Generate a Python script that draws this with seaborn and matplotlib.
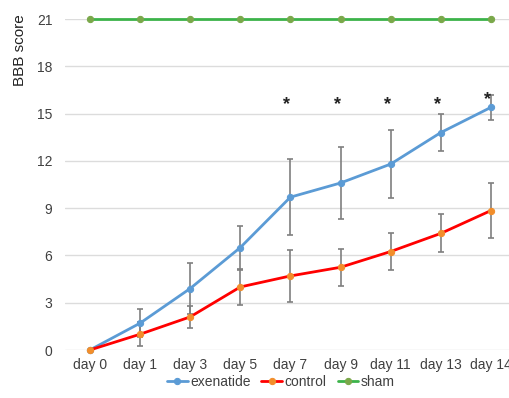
import pandas as pd
import seaborn as sns
import matplotlib.pyplot as plt

days = ["day 0", "day 1", "day 3", "day 5", "day 7", "day 9", "day 11", "day 13", "day 14"]
exenatide = [0, 1.7, 3.9, 6.5, 9.7, 10.6, 11.8, 13.8, 15.4]
exenatide_err = [0, 0.9, 1.6, 1.4, 2.4, 2.3, 2.15, 1.2, 0.8]
control = [0, 1.0, 2.1, 4.0, 4.7, 5.25, 6.25, 7.4, 8.85]
control_err = [0, 0.75, 0.7, 1.15, 1.65, 1.17, 1.15, 1.2, 1.75]
sham = [21, 21, 21, 21, 21, 21, 21, 21, 21]
star_days = ["day 7", "day 9", "day 11", "day 13", "day 14"]
star_y = [15.55, 15.6, 15.55, 15.55, 15.9]

sns.set_style("white")
plt.rcParams["font.family"] = ["Liberation Sans", "DejaVu Sans"]

fig = plt.figure(figsize=(5.1, 3.98), dpi=100)
ax = fig.add_axes([0.127, 0.1206, 0.873, 0.8314])

x = list(range(len(days)))
series = [
    ("exenatide", exenatide, exenatide_err, "#5b9bd5", "#5b9bd5"),
    ("control", control, control_err, "#ff0000", "#f28e2b"),
    ("sham", sham, None, "#3cb34a", "#7aa84a"),
]

for name, vals, err, lc, mc in series:
    df = pd.DataFrame({"x": x, "y": vals})
    if err is not None:
        ax.errorbar(x[1:], vals[1:], yerr=err[1:], fmt="none", ecolor="#7f7f7f",
                    elinewidth=1.2, capsize=2.5, capthick=1.2, zorder=2)
    sns.lineplot(data=df, x="x", y="y", ax=ax, color=lc, linewidth=2, marker="o",
                 markersize=4.5, markerfacecolor=mc, markeredgecolor=mc,
                 label=name, zorder=3, clip_on=False)

for d, yv in zip(star_days, star_y):
    ax.text(days.index(d) - 0.07, yv, "*", ha="center", va="center", fontsize=13,
            fontweight="bold", color="#222222")

ax.set_xlim(-0.5, 8.38)
ax.set_ylim(0, 21)
ax.set_yticks(range(0, 22, 3))
ax.set_xticks(x)
ax.set_xticklabels(days)
ax.set_xlabel("")
ax.set_ylabel("BBB score", fontsize=11, color="#222222")
ax.yaxis.set_label_coords(-0.085, 0.906)
ax.tick_params(axis="both", labelsize=10, labelcolor="#404040", length=0)
ax.tick_params(axis="y", pad=9)
ax.tick_params(axis="x", pad=6)
ax.yaxis.grid(True, color="#dcdcdc", linewidth=1)
ax.set_axisbelow(True)
sns.despine(ax=ax, left=True, bottom=True)

ax.legend(loc="center", bbox_to_anchor=(0.485, -0.097), ncol=3, frameon=False,
          fontsize=10, handlelength=1.5, handletextpad=0.15, columnspacing=0.8,
          labelcolor="#404040")

fig.savefig("out.png", dpi=100)
